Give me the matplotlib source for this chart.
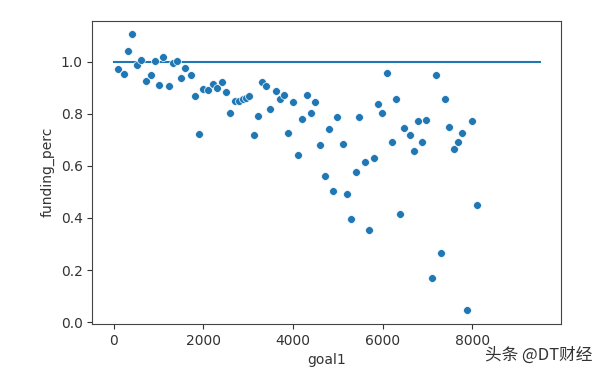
import matplotlib
matplotlib.use("Agg")
import matplotlib.pyplot as plt

# goal1 vs funding_perc
goal1 = [104, 229, 326, 415, 511, 600, 711, 822, 919, 1007, 1104, 1230, 1319, 1415,
         1504, 1600, 1726, 1822, 1911, 1993, 2096, 2215, 2304, 2407, 2496, 2600, 2696,
         2785, 2874, 2948, 3007, 3119, 3215, 3304, 3400, 3496, 3615, 3711, 3807, 3896,
         3993, 4118, 4207, 4304, 4393, 4496, 4607, 4704, 4793, 4896, 4985, 5104, 5193,
         5289, 5393, 5481, 5607, 5696, 5800, 5889, 5978, 6104, 6200, 6289, 6385, 6474,
         6600, 6696, 6785, 6882, 6970, 7096, 7185, 7289, 7378, 7474, 7593, 7689, 7778,
         7874, 7993, 8096]
funding_perc = [0.972, 0.954, 1.041, 1.105, 0.986, 1.008, 0.927, 0.950, 1.003, 0.912,
                1.020, 0.905, 0.995, 1.003, 0.938, 0.976, 0.950, 0.869, 0.723, 0.896,
                0.890, 0.914, 0.899, 0.923, 0.885, 0.804, 0.851, 0.851, 0.857, 0.860,
                0.868, 0.718, 0.792, 0.922, 0.906, 0.820, 0.886, 0.857, 0.874, 0.728,
                0.846, 0.642, 0.782, 0.874, 0.804, 0.847, 0.680, 0.562, 0.740, 0.503,
                0.787, 0.686, 0.492, 0.395, 0.578, 0.788, 0.615, 0.353, 0.632, 0.837,
                0.804, 0.955, 0.691, 0.858, 0.417, 0.745, 0.718, 0.659, 0.772, 0.691,
                0.777, 0.169, 0.950, 0.267, 0.858, 0.750, 0.664, 0.691, 0.728, 0.046,
                0.772, 0.449]

# reference line at 100%
line_x = [0, 9500]
line_y = [1.0, 1.0]

fig = plt.figure(figsize=(6, 3.82), dpi=100)
ax = fig.add_axes([0.154, 0.152, 0.781, 0.794])

ax.scatter(goal1, funding_perc, s=32, color="#1f77b4", edgecolor="white", linewidth=0.5, zorder=3)
ax.plot(line_x, line_y, color="#1f77b4", linewidth=1.5)

ax.set_xlabel("goal1", fontsize=10, color="#333333")
ax.set_ylabel("funding_perc", fontsize=10, color="#333333")
ax.set_xticks([0, 2000, 4000, 6000, 8000])
ax.set_yticks([0.0, 0.2, 0.4, 0.6, 0.8, 1.0])
ax.tick_params(labelsize=10, colors="#333333")
for s in ax.spines.values():
    s.set_color("#444444")

fig.text(0.987, 0.071, "头条 @DT财经", ha="right", va="center", fontsize=12,
         color="#333333", family=["Noto Sans CJK SC", "DejaVu Sans"])

fig.savefig("out.png", dpi=100)
